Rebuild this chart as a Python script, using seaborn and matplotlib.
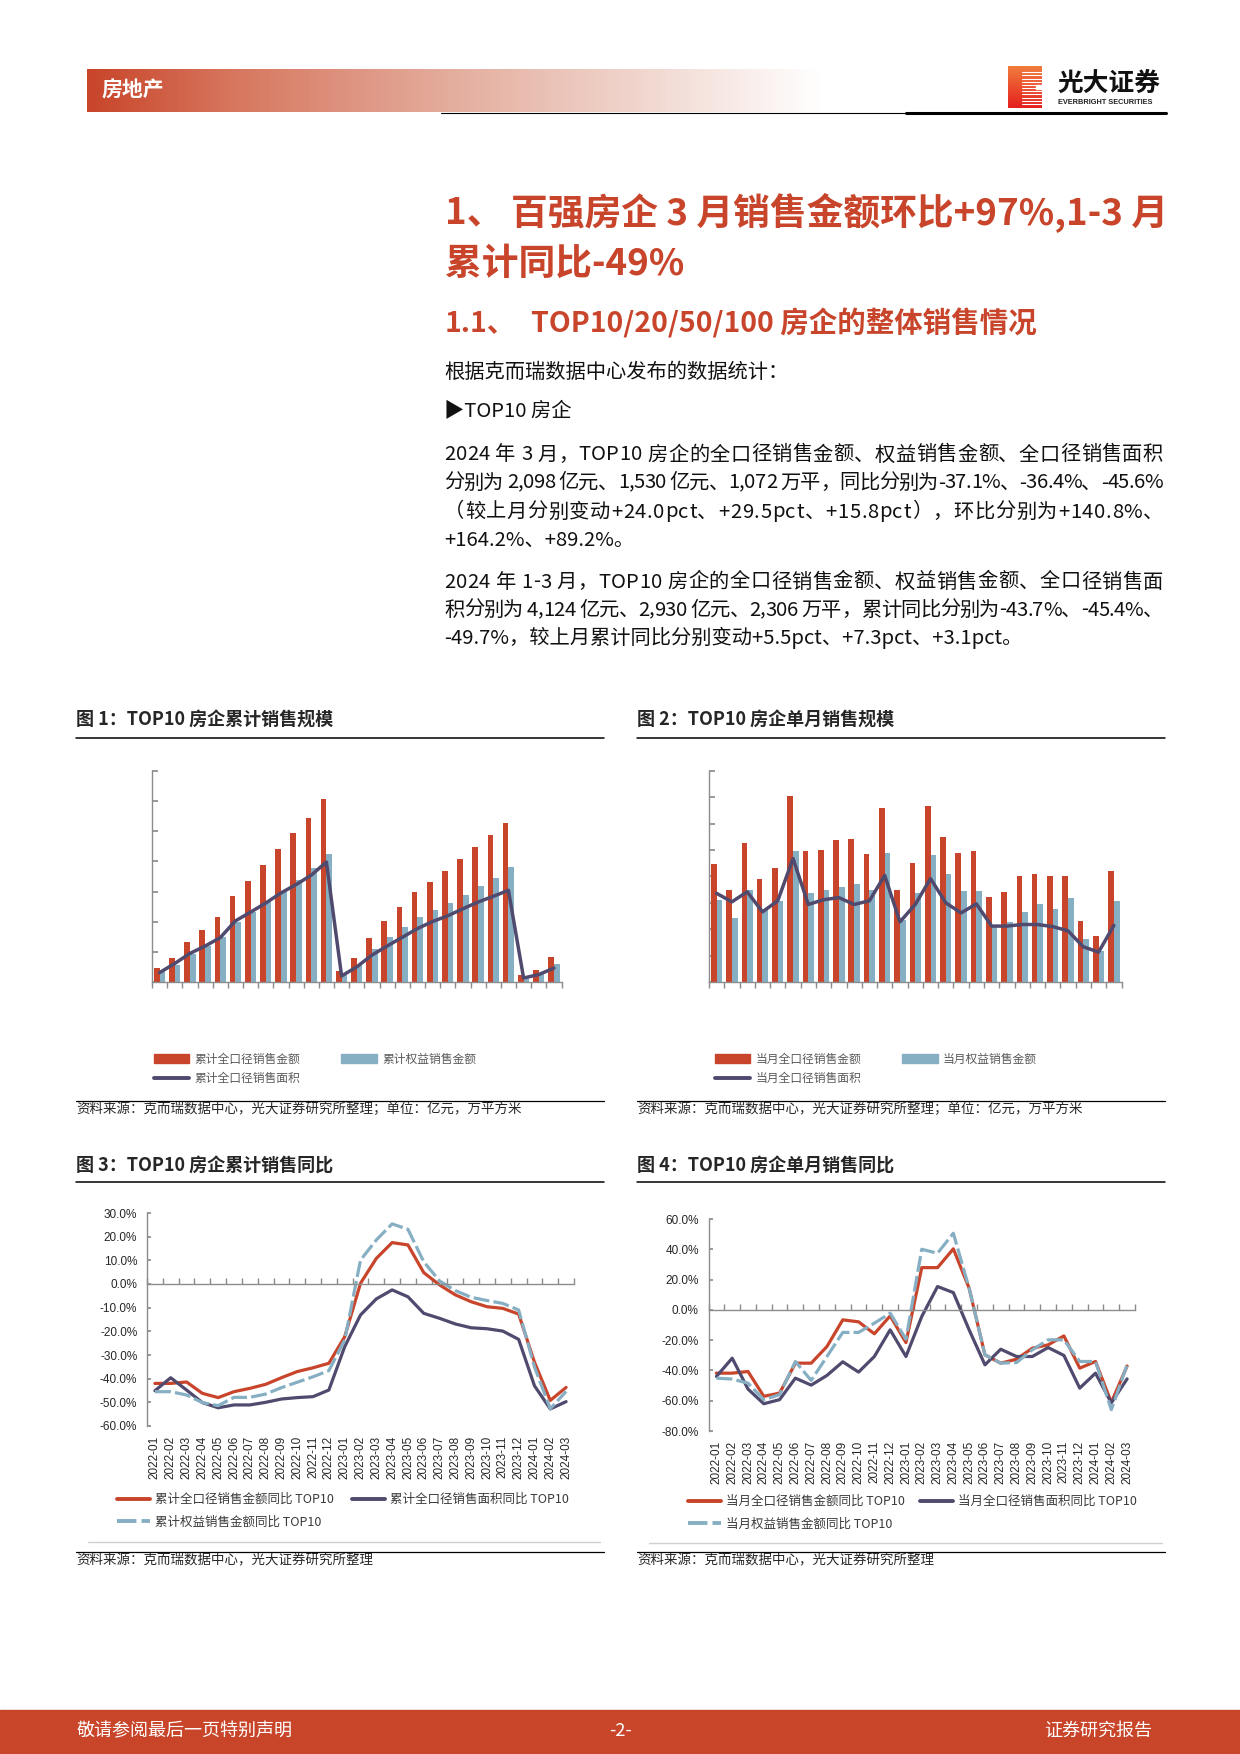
import numpy as np
import pandas as pd
import matplotlib
matplotlib.use("Agg")
import matplotlib.pyplot as plt
import seaborn as sns
from matplotlib.lines import Line2D
from matplotlib.patches import Patch, Rectangle
from matplotlib.colors import LinearSegmentedColormap

# ---- data ----
months = ["2022-01", "2022-02", "2022-03", "2022-04", "2022-05", "2022-06",
          "2022-07", "2022-08", "2022-09", "2022-10", "2022-11", "2022-12",
          "2023-01", "2023-02", "2023-03", "2023-04", "2023-05", "2023-06",
          "2023-07", "2023-08", "2023-09", "2023-10", "2023-11", "2023-12",
          "2024-01", "2024-02", "2024-03"]

# 图1 累计 (亿元 / 万平方米)
cum_amount = [2280, 3960, 6630, 8640, 10810, 14320, 16830, 19340, 22010, 24690, 27200, 30370,
              1780, 3960, 7300, 10140, 12480, 14990, 16660, 18340, 20340, 22350, 24350, 26360,
              1155, 2026, 4124]
cum_equity = [1840, 2790, 4630, 5960, 7520, 9980, 11650, 13320, 14990, 16940, 18840, 21180,
              1280, 2790, 5460, 7470, 9140, 10810, 11980, 13150, 14490, 15990, 17330, 19000,
              821, 1400, 2930]
cum_area = [1560, 3070, 4740, 5960, 7360, 10140, 11590, 13100, 14770, 16160, 17720, 19900,
            1000, 2510, 4460, 5960, 7410, 8860, 10030, 10980, 12150, 13260, 14210, 15210,
            667, 1234, 2306]

# 图2 单月
mon_amount = [2230, 1750, 2630, 1960, 2170, 3530, 2480, 2500, 2690, 2710, 2420, 3300,
              1750, 2250, 3340, 2750, 2440, 2480, 1620, 1710, 2000, 2040, 2000, 2000,
              1155, 871, 2098]
mon_equity = [1560, 1220, 1750, 1380, 1540, 2480, 1680, 1750, 1810, 1850, 1750, 2440,
              1170, 1690, 2400, 2040, 1730, 1730, 1060, 1140, 1330, 1470, 1390, 1600,
              821, 579, 1530]
mon_area = [1680, 1520, 1710, 1330, 1540, 2340, 1470, 1560, 1600, 1470, 1540, 2020,
            1140, 1470, 1960, 1500, 1310, 1480, 1060, 1060, 1090, 1090, 1050, 970,
            667, 567, 1072]

# 图3 累计同比 (%)
cum_amount_yoy = [-42.0, -42.0, -41.4, -46.2, -48.0, -45.5, -44.1, -42.4, -39.6, -37.0, -35.4, -33.5,
                  -22.3, 0.3, 10.8, 17.5, 16.5, 4.8, -0.4, -4.6, -7.5, -9.6, -10.3, -12.7,
                  -33.0, -49.2, -43.7]
cum_area_yoy = [-45.1, -39.6, -44.8, -50.1, -52.3, -51.1, -51.1, -50.0, -48.6, -48.0, -47.6, -44.8,
                -26.5, -13.1, -6.3, -2.5, -5.4, -12.4, -14.5, -16.9, -18.5, -18.9, -19.9, -23.4,
                -43.0, -52.8, -49.7]
cum_equity_yoy = [-45.5, -45.5, -46.9, -50.1, -51.4, -47.9, -47.9, -46.5, -43.8, -41.5, -39.2, -36.6,
                  -23.7, 10.1, 18.6, 25.4, 23.1, 9.4, 1.3, -2.8, -5.6, -7.0, -8.2, -11.0,
                  -35.0, -52.7, -45.4]

# 图4 单月同比 (%)
mon_amount_yoy = [-41.8, -41.8, -40.7, -57.1, -55.0, -35.2, -35.2, -24.2, -6.6, -7.9, -15.8, -4.0,
                  -21.6, 27.9, 27.9, 40.3, 14.3, -29.7, -35.2, -32.6, -25.3, -23.1, -17.2, -38.5,
                  -34.1, -61.1, -37.1]
mon_area_yoy = [-44.0, -31.9, -52.3, -62.0, -59.3, -45.1, -49.7, -43.3, -34.3, -41.1, -30.8, -13.2,
                -30.8, -4.4, 15.4, 11.4, -13.2, -36.3, -26.0, -30.8, -30.8, -24.9, -30.1, -51.7,
                -41.8, -61.4, -45.6]
mon_equity_yoy = [-45.1, -45.7, -48.4, -59.3, -56.0, -34.1, -46.6, -30.8, -14.9, -14.9, -8.8, -2.2,
                  -19.4, 40.0, 37.4, 50.6, 14.3, -29.7, -35.2, -34.8, -26.4, -19.8, -19.8, -34.1,
                  -34.1, -65.9, -36.4]

# (text, justified?)
body_lines = [
    ("根据克而瑞数据中心发布的数据统计：", False),
    ("▶TOP10 房企", False),
    ("2024 年 3 月，TOP10 房企的全口径销售金额、权益销售金额、全口径销售面积", True),
    ("分别为 2,098 亿元、1,530 亿元、1,072 万平，同比分别为-37.1%、-36.4%、-45.6%", True),
    ("（较上月分别变动+24.0pct、+29.5pct、+15.8pct），环比分别为+140.8%、", True),
    ("+164.2%、+89.2%。", False),
    ("2024 年 1-3 月，TOP10 房企的全口径销售金额、权益销售金额、全口径销售面", True),
    ("积分别为 4,124 亿元、2,930 亿元、2,306 万平，累计同比分别为-43.7%、-45.4%、", True),
    ("-49.7%，较上月累计同比分别变动+5.5pct、+7.3pct、+3.1pct。", False),
]

RED = "#C8452B"
BLUE = "#87AFC3"
NAVY = "#4F4A6E"
AXIS_GRAY = "#8C8C8C"

sns.set_theme(style="white")
plt.rcParams["font.family"] = ["Noto Sans CJK SC", "DejaVu Sans"]
plt.rcParams["axes.unicode_minus"] = False

W, H = 1240, 1754
fig = plt.figure(figsize=(W / 100, H / 100), dpi=100)
renderer = fig.canvas.get_renderer()


def fx(px):
    return px / W


def fy(py):
    return 1 - py / H


def box(l, t, r, b):
    return [fx(l), fy(b), (r - l) / W, (b - t) / H]


def hline(x0, x1, y, color="black", lw=1.0):
    fig.add_artist(Line2D([fx(x0), fx(x1)], [fy(y), fy(y)], color=color, lw=lw,
                          transform=fig.transFigure))


def text_width(s, size):
    t = fig.text(0, 0, s, fontsize=size)
    w = t.get_window_extent(renderer=renderer).width
    t.remove()
    return w


def justified(x0, x1, y, s, size, color="#111111"):
    base = text_width("中中", size)
    widths = [text_width("中" + ch + "中", size) - base for ch in s]
    extra = (x1 - x0 - sum(widths)) / (len(s) - 1)
    x = x0
    for ch, w in zip(s, widths):
        if ch != " ":
            fig.text(fx(x), fy(y), ch, fontsize=size, va="center", color=color)
        x += w + extra


# ---- page header ----
hdr_cmap = LinearSegmentedColormap.from_list(
    "hdr", [(0, "#C8452A"), (0.2, "#D7775F"), (0.5, "#E4AE9E"), (0.75, "#F0D5CD"), (1, "#FFFFFF")])
ax_h = fig.add_axes(box(87, 69, 822, 112))
ax_h.imshow(np.linspace(0, 1, 400)[None, :], aspect="auto", cmap=hdr_cmap, extent=[0, 1, 0, 1])
ax_h.axis("off")
fig.text(fx(102), fy(90), "房地产", color="white", fontsize=15, fontweight="bold", va="center")

ax_l = fig.add_axes(box(1008, 66, 1042, 108))
logo_cmap = LinearSegmentedColormap.from_list("logo", ["#E5201E", "#F07C3C"])
ax_l.imshow(np.linspace(0, 1, 60)[:, None], aspect="auto", cmap=logo_cmap, extent=[0, 1, 0, 1],
            origin="lower")
for yy in np.arange(0.1, 0.92, 0.075):
    ax_l.plot([0.42, 1.0], [yy, yy], color="white", lw=0.8)
ax_l.add_patch(Rectangle((0.82, 0.46), 0.2, 0.08, color="white"))
ax_l.set_xlim(0, 1)
ax_l.set_ylim(0, 1)
ax_l.axis("off")
fig.text(fx(1057), fy(83), "光大证券", fontsize=18.5, fontweight="bold", va="center", color="#111111")
fig.text(fx(1058), fy(103), "EVERBRIGHT SECURITIES", fontsize=5.3, fontweight="bold", va="center",
         color="#222222", family="Liberation Sans")
hline(441, 906, 113, lw=0.8)
hline(906, 1166, 112.5, lw=2.2)

# ---- headings and body ----
fig.text(fx(445), fy(213), "1、", color=RED, fontsize=26.5, fontweight="bold", va="center")
fig.text(fx(511), fy(213), "百强房企 3 月销售金额环比+97%,1-3 月", color=RED, fontsize=26.5,
         fontweight="bold", va="center")
fig.text(fx(445), fy(264), "累计同比-49%", color=RED, fontsize=26.5, fontweight="bold", va="center")
fig.text(fx(445), fy(323), "1.1、", color=RED, fontsize=20.5, fontweight="bold", va="center")
fig.text(fx(531), fy(323), "TOP10/20/50/100 房企的整体销售情况", color=RED, fontsize=20.5,
         fontweight="bold", va="center")

body_y = [372, 412, 455, 483, 512, 540, 582, 610, 638]
for yy, (line, just) in zip(body_y, body_lines):
    if just:
        justified(444, 1163, yy, line, 14.6)
    else:
        fig.text(fx(444), fy(yy), line, fontsize=14.6, va="center", color="#111111")

# ---- chart titles / rules / sources ----
for x0, y0, title in [(76, 720, "图 1：TOP10 房企累计销售规模"), (637, 720, "图 2：TOP10 房企单月销售规模"),
                      (76, 1166, "图 3：TOP10 房企累计销售同比"), (637, 1166, "图 4：TOP10 房企单月销售同比")]:
    fig.text(fx(x0), fy(y0), title, fontsize=13, fontweight="bold", va="center")
for x0, x1 in [(76, 604), (637, 1165)]:
    hline(x0, x1, 738, lw=1.1)
    hline(x0, x1, 1182, lw=1.1)
    hline(x0, x1, 1101, lw=0.9)
    hline(x0, x1, 1552, lw=0.9)
    fig.text(fx(x0), fy(1109), "资料来源：克而瑞数据中心，光大证券研究所整理；单位：亿元，万平方米",
             fontsize=9.7, va="center")
    fig.text(fx(x0), fy(1560), "资料来源：克而瑞数据中心，光大证券研究所整理", fontsize=9.7, va="center")
hline(88, 600, 1542, color="#D0D0D0", lw=1)
hline(649, 1162, 1543, color="#D0D0D0", lw=1)


def style_axes(ax):
    for s in ["top", "right"]:
        ax.spines[s].set_visible(False)
    for s in ["left", "bottom"]:
        ax.spines[s].set_color(AXIS_GRAY)
        ax.spines[s].set_linewidth(1)


def bar_chart(rect, amount, equity, area, ymax, ystep, names, leg_x):
    ax = fig.add_axes(rect)
    n = len(months)
    df = pd.DataFrame({
        "月份": months * 2,
        "值": amount + equity,
        "系列": [names[0]] * n + [names[1]] * n,
    })
    sns.barplot(data=df, x="月份", y="值", hue="系列", palette=[RED, BLUE], width=0.74, gap=0,
                saturation=1, legend=False, linewidth=0, ax=ax)
    ax.plot(np.arange(n), area, color=NAVY, lw=2.5, solid_joinstyle="round", zorder=5)
    ax.set_xlim(-0.5, n - 0.5)
    ax.set_ylim(0, ymax)
    ax.set_yticks(np.arange(0, ymax + 1, ystep))
    ax.set_xticks(np.arange(n + 1) - 0.5, minor=True)
    ax.tick_params(axis="x", which="major", length=0, labelbottom=False)
    ax.tick_params(axis="x", which="minor", bottom=True, direction="out", length=4,
                   color=AXIS_GRAY, width=1)
    ax.tick_params(axis="y", left=True, direction="in", length=4, color=AXIS_GRAY, labelleft=False)
    ax.set_xlabel("")
    ax.set_ylabel("")
    style_axes(ax)
    handles = [Patch(color=RED), Line2D([], [], color=NAVY, lw=2.8), Patch(color=BLUE)]
    labels = [names[0], names[2], names[1]]
    ax.legend(handles, labels, ncol=2, loc="upper left", bbox_to_anchor=(fx(leg_x), fy(1053)),
              bbox_transform=fig.transFigure, frameon=False, fontsize=8.5, handlelength=3.0,
              handleheight=0.8, handletextpad=0.45, columnspacing=3.5, labelspacing=0.5,
              borderpad=0, borderaxespad=0, labelcolor="#595959")
    return ax


def line_chart(rect, amount_yoy, area_yoy, equity_yoy, ylo, yhi, ystep, names, leg_x, leg_y, colsp):
    ax = fig.add_axes(rect)
    n = len(months)
    x = np.arange(n)
    dash = (0, (5, 1.3))
    sns.lineplot(x=x, y=amount_yoy, color=RED, lw=2.3, errorbar=None, ax=ax)
    sns.lineplot(x=x, y=area_yoy, color=NAVY, lw=2.3, errorbar=None, ax=ax)
    sns.lineplot(x=x, y=equity_yoy, color=BLUE, lw=2.3, linestyle=dash, errorbar=None, ax=ax)
    ax.set_xlim(-0.5, n - 0.5)
    ax.set_ylim(ylo, yhi)
    yt = np.arange(ylo, yhi + 0.1, ystep)
    ax.set_yticks(yt, labels=[f"{v:.1f}%" for v in yt], fontfamily="Liberation Sans", fontsize=8.5)
    ax.tick_params(axis="y", left=True, direction="in", length=3, color=AXIS_GRAY, pad=7)
    ax.spines["bottom"].set_position(("data", 0))
    ax.set_xticks(x)
    ax.set_xticks(np.arange(n + 1) - 0.5, minor=True)
    ax.tick_params(axis="x", which="major", length=0, labelbottom=False)
    ax.tick_params(axis="x", which="minor", bottom=True, direction="in", length=4, color=AXIS_GRAY)
    style_axes(ax)
    sec = ax.secondary_xaxis("bottom")
    sec.set_xticks(x, labels=months, rotation=90, fontfamily="Liberation Sans", fontsize=8.5)
    sec.tick_params(length=0, pad=7)
    sec.spines["bottom"].set_visible(False)
    ax.set_xlabel("")
    ax.set_ylabel("")
    handles = [Line2D([], [], color=RED, lw=2.8), Line2D([], [], color=BLUE, lw=2.8, linestyle=dash),
               Line2D([], [], color=NAVY, lw=2.8)]
    labels = [names[0], names[2], names[1]]
    ax.legend(handles, labels, ncol=2, loc="upper left", bbox_to_anchor=(fx(leg_x), fy(leg_y)),
              bbox_transform=fig.transFigure, frameon=False, fontsize=9, handlelength=2.65,
              handletextpad=0.4, columnspacing=colsp, labelspacing=0.75, borderpad=0,
              borderaxespad=0, labelcolor="#3A3A3A")
    return ax


bar_chart(box(152, 771, 561.5, 982), cum_amount, cum_equity, cum_area, 35000, 5000,
          ["累计全口径销售金额", "累计权益销售金额", "累计全口径销售面积"], 153.5)
bar_chart(box(709, 771, 1121.5, 982), mon_amount, mon_equity, mon_area, 4000, 500,
          ["当月全口径销售金额", "当月权益销售金额", "当月全口径销售面积"], 714.5)
line_chart(box(147, 1213, 574, 1426), cum_amount_yoy, cum_area_yoy, cum_equity_yoy, -60, 30, 10,
           ["累计全口径销售金额同比 TOP10", "累计全口径销售面积同比 TOP10", "累计权益销售金额同比 TOP10"],
           117, 1493, 1.4)
line_chart(box(708.5, 1219, 1135, 1431), mon_amount_yoy, mon_area_yoy, mon_equity_yoy, -80, 60, 20,
           ["当月全口径销售金额同比 TOP10", "当月全口径销售面积同比 TOP10", "当月权益销售金额同比 TOP10"],
           688, 1495, 1.2)

# ---- footer ----
fig.add_artist(Rectangle((0, fy(1754)), 1, 44 / H, transform=fig.transFigure, color="#C8452A"))
fig.text(fx(77), fy(1731), "敬请参阅最后一页特别声明", color="white", fontsize=13, va="center")
fig.text(fx(620), fy(1731), "-2-", color="white", fontsize=13, va="center", ha="center")
fig.text(fx(1152), fy(1731), "证券研究报告", color="white", fontsize=13, va="center", ha="right")

fig.savefig("out.png", dpi=100)
